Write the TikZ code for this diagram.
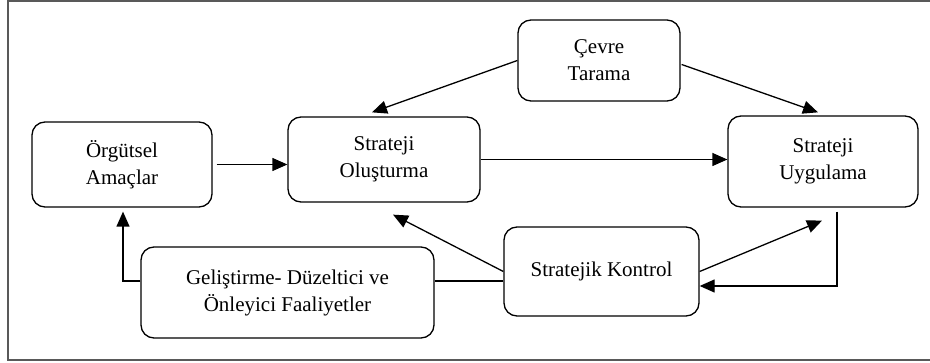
\documentclass[tikz,border=0pt]{standalone}
\usepackage{fontspec}
\setmainfont{Liberation Serif}
\usetikzlibrary{arrows.meta,calc}
\begin{document}
\begin{tikzpicture}[x=1pt,y=-1pt,
  box/.style={draw,line width=1.3pt,rounded corners=13pt,align=center,inner sep=0pt,
    font=\fontsize{21}{27}\selectfont},
  conn/.style={line width=1.3pt},
  arr/.style={conn,-{Triangle[length=15pt,width=13pt]}}]
\useasboundingbox (0,0) rectangle (930,363);
\draw[line width=1.6pt,color=black!65] (8,0.8) rectangle (940,360);
\node[box,minimum width=180pt,minimum height=85pt] (OA) at (122,164.5) {Örgütsel\\Amaçlar};
\node[box,minimum width=192pt,minimum height=85pt] (SO) at (384,159.5) {Strateji\\Oluşturma};
\node[box,minimum width=162pt,minimum height=81pt] (CT) at (599,60.5) {Çevre\\Tarama};
\node[box,minimum width=190pt,minimum height=91pt] (SU) at (823,161.5) {Strateji\\Uygulama};
\node[box,minimum width=195pt,minimum height=89pt] (SK) at (601.5,271.5) {Stratejik Kontrol};
\node[box,minimum width=293pt,minimum height=91pt] (GD) at (287.5,292.5) {Geliştirme- Düzeltici ve\\Önleyici Faaliyetler};
\draw[arr,shorten <=4pt] (OA.east) -- (OA.east -| SO.west);
\draw[arr] (SO.east) -- (SO.east -| SU.west);
\draw[arr] (CT.west) -- ($(SO.north)+(-12,-4)$);
\draw[arr] ($(CT.east)+(1,4)$) -- ($(SU.north)+(-5,-3)$);
\draw[arr] (SK.west) -- ($(SO.south)+(9,12)$);
\draw[arr] (SK.east) -- ($(SU.south)+(-1,13)$);
\draw[arr] ($(SU.south)+(14,4)$) |- ($(SK.east)+(0,14.5)$);
\coordinate (k1) at ($(SK.west)+(0,9.5)$);
\draw[conn] (k1) -- (k1 -| GD.east);
\draw[arr] (k1 -| GD.west) -| ($(OA.south)+(1,4)$);
\end{tikzpicture}
\end{document}
